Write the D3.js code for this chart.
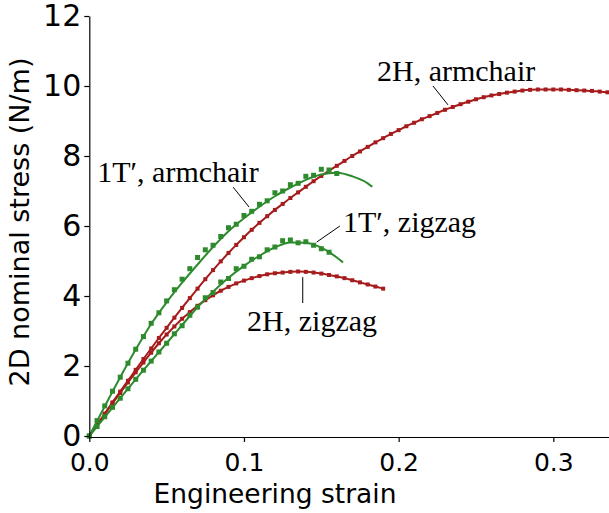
<!DOCTYPE html>
<html>
<head>
<meta charset="utf-8">
<script src="https://cdn.jsdelivr.net/npm/d3@7"></script>
<style>
  html, body { margin: 0; padding: 0; background: #fff; }
  svg { display: block; }
</style>
</head>
<body>
<svg id="chart" width="609" height="513"></svg>
<script>
// Stress–strain response of MoS2 monolayers (2H and 1T′ phases, armchair / zigzag loading)

// Strain grid of the MD samples (step 0.005)
const STEP = 0.005;

// 2H, armchair — simulated points (strain 0 … 0.335)
const h2Armchair = [0, 0.32, 0.64, 0.96, 1.27, 1.58, 1.89, 2.20, 2.50, 2.80, 3.09, 3.38, 3.66, 3.94, 4.21, 4.48,
  4.74, 4.99, 5.23, 5.46, 5.68, 5.89, 6.09, 6.28, 6.46, 6.63, 6.80, 6.96, 7.12, 7.28, 7.43, 7.58, 7.72, 7.86,
  8.00, 8.13, 8.26, 8.39, 8.51, 8.63, 8.74, 8.85, 8.95, 9.05, 9.14, 9.23, 9.32, 9.40, 9.48, 9.55, 9.62, 9.68,
  9.73, 9.77, 9.81, 9.84, 9.87, 9.89, 9.90, 9.90, 9.90, 9.90, 9.89, 9.88, 9.87, 9.86, 9.84, 9.82];

// 2H, zigzag — simulated points (strain 0 … 0.19)
const h2Zigzag = [0, 0.31, 0.62, 0.93, 1.23, 1.53, 1.82, 2.10, 2.38, 2.65, 2.90, 3.13, 3.35, 3.54, 3.72, 3.88,
  4.02, 4.15, 4.26, 4.36, 4.44, 4.51, 4.57, 4.62, 4.65, 4.67, 4.69, 4.70, 4.69, 4.67, 4.64, 4.60, 4.56, 4.51,
  4.45, 4.39, 4.33, 4.27, 4.21];

// 1T′, armchair — simulated points (strain 0 … 0.16)
const t1Armchair = [0, 0.44, 0.86, 1.28, 1.68, 2.08, 2.48, 2.84, 3.22, 3.52, 3.86, 4.18, 4.48, 4.78, 5.10, 5.32,
  5.45, 5.70, 5.95, 6.05, 6.30, 6.42, 6.62, 6.72, 6.95, 7.00, 7.18, 7.22, 7.42, 7.45, 7.62, 7.60, 7.50];

// 1T′, zigzag — simulated points (strain 0 … 0.155)
const t1Zigzag = [0, 0.27, 0.55, 0.82, 1.08, 1.35, 1.62, 1.88, 2.14, 2.40, 2.65, 2.92, 3.15, 3.45, 3.68, 3.95,
  4.10, 4.40, 4.50, 4.78, 4.85, 5.05, 5.12, 5.32, 5.40, 5.58, 5.60, 5.52, 5.55, 5.45, 5.35, 5.25];

// Fitted curves for the 1T′ data (strain, stress)
const t1ArmchairFitStrain = [0, 0.01, 0.02, 0.03, 0.04, 0.05, 0.06, 0.07, 0.08, 0.09, 0.10, 0.11, 0.12, 0.13, 0.14, 0.15, 0.16, 0.17, 0.18, 0.183];
const t1ArmchairFitStress = [0, 0.85, 1.68, 2.47, 3.20, 3.82, 4.38, 4.90, 5.40, 5.85, 6.22, 6.55, 6.85, 7.10, 7.32, 7.47, 7.52, 7.42, 7.22, 7.12];
const t1ZigzagFitStrain = [0, 0.01, 0.02, 0.03, 0.04, 0.05, 0.06, 0.07, 0.08, 0.09, 0.10, 0.11, 0.12, 0.13, 0.14, 0.15, 0.16, 0.164];
const t1ZigzagFitStress = [0, 0.54, 1.08, 1.62, 2.14, 2.65, 3.17, 3.68, 4.12, 4.52, 4.86, 5.15, 5.39, 5.53, 5.52, 5.38, 5.10, 4.96];

// Axis ticks
const xTicks = [0, 0.1, 0.2, 0.3];
const yTicks = [0, 2, 4, 6, 8, 10, 12];

// Curve labels: text anchor, pointer start and pointer end (data units)
const labelText = ["2H, armchair", "1T\u2032, armchair", "1T\u2032, zigzag", "2H, zigzag"];
const labelPos = [[0.186, 10.14], [0.0051, 7.26], [0.164, 5.83], [0.102, 2.99]];
const pointerFrom = [[0.2222, 10.0], [0.093, 7.11], [0.162, 6.0], [0.138, 4.54]];
const pointerTo = [[0.2319, 9.46], [0.1033, 6.54], [0.147, 5.54], [0.138, 3.80]];

const RED = "#a61c1c";
const GREEN = "#2d8a2d";

const svg = d3.select("#chart");

const x = d3.scaleLinear().domain([0, 0.336]).range([89.3, 609]);
const y = d3.scaleLinear().domain([0, 12]).range([436, 16]);

const toPoints = vals => vals.map((v, i) => [i * STEP, v]);
const zipPoints = (xs, ys) => xs.map((v, i) => [v, ys[i]]);

const line = d3.line().x(d => x(d[0])).y(d => y(d[1])).curve(d3.curveMonotoneX);

const series = [
  { pts: toPoints(h2Zigzag), fit: toPoints(h2Zigzag), color: RED, size: 4 },
  { pts: toPoints(h2Armchair), fit: toPoints(h2Armchair), color: RED, size: 4 },
  { pts: toPoints(t1Zigzag), fit: zipPoints(t1ZigzagFitStrain, t1ZigzagFitStress), color: GREEN, size: 5 },
  { pts: toPoints(t1Armchair), fit: zipPoints(t1ArmchairFitStrain, t1ArmchairFitStress), color: GREEN, size: 5 }
];

const plot = svg.append("g");

series.forEach(s => {
  plot.append("path")
    .datum(s.fit)
    .attr("fill", "none")
    .attr("stroke", s.color)
    .attr("stroke-width", 2)
    .attr("d", line);
  plot.selectAll(null)
    .data(s.pts)
    .enter()
    .append("rect")
    .attr("x", d => x(d[0]) - s.size / 2)
    .attr("y", d => y(d[1]) - s.size / 2)
    .attr("width", s.size)
    .attr("height", s.size)
    .attr("fill", s.color);
});

// Axes
const yAxis = svg.append("g")
  .attr("transform", `translate(${x(0)},0)`)
  .call(d3.axisLeft(y).tickValues(yTicks).tickSize(5).tickSizeOuter(0).tickPadding(3).tickFormat(d3.format("d")));
yAxis.selectAll("text")
  .attr("font-family", "DejaVu Sans")
  .attr("font-size", 30)
  .attr("dy", "0.33em")
  .attr("fill", "#000");

const xAxis = svg.append("g")
  .attr("transform", `translate(0,${y(0) + 1})`)
  .call(d3.axisBottom(x).tickValues(xTicks).tickSize(5).tickSizeOuter(0).tickPadding(11).tickFormat(d3.format(".1f")));
xAxis.selectAll("text")
  .attr("font-family", "DejaVu Sans")
  .attr("font-size", 25)
  .attr("fill", "#000");

[xAxis, yAxis].forEach(g => {
  g.select(".domain").attr("stroke", "#000").attr("stroke-width", 1.2);
  g.selectAll(".tick line").attr("stroke", "#000").attr("stroke-width", 1.2);
});

// Axis titles
svg.append("text")
  .attr("x", 275)
  .attr("y", 503)
  .attr("text-anchor", "middle")
  .attr("font-family", "DejaVu Sans")
  .attr("font-size", 26.5)
  .attr("fill", "#000")
  .text("Engineering strain");

svg.append("text")
  .attr("transform", "translate(29,222) rotate(-90)")
  .attr("text-anchor", "middle")
  .attr("font-family", "DejaVu Sans")
  .attr("font-size", 27)
  .attr("fill", "#000")
  .text("2D nominal stress (N/m)");

// Curve labels with pointer lines
labelText.forEach((t, i) => {
  svg.append("line")
    .attr("x1", x(pointerFrom[i][0]))
    .attr("y1", y(pointerFrom[i][1]))
    .attr("x2", x(pointerTo[i][0]))
    .attr("y2", y(pointerTo[i][1]))
    .attr("stroke", "#000")
    .attr("stroke-width", 1);
  svg.append("text")
    .attr("x", x(labelPos[i][0]))
    .attr("y", y(labelPos[i][1]))
    .attr("font-family", "Liberation Serif")
    .attr("font-size", 30)
    .attr("fill", "#000")
    .text(t);
});
</script>
</body>
</html>
